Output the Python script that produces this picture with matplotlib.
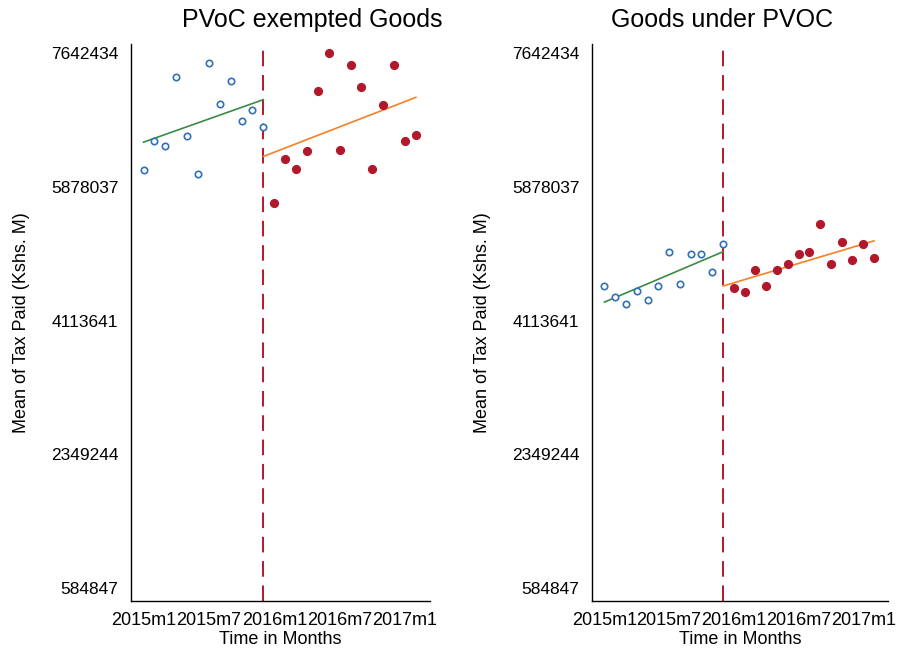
import numpy as np
import matplotlib
matplotlib.use("Agg")
import matplotlib.pyplot as plt

plt.rcParams['font.family'] = ['Liberation Sans', 'DejaVu Sans']

# ---------- DATA ----------
# months counted from 2015m1 (=0)
months_pre = np.arange(0, 12)
months_post = np.arange(12, 26)
cutoff = 11

tick_pos = [0, 6, 12, 18, 24]
tick_labels = ["2015m1", "2015m7", "2016m1", "2016m7", "2017m1"]
ytick_vals = [584847, 2349244, 4113641, 5878037, 7642434]

# PVoC exempted goods
exempt_pre = [6102900, 6476200, 6419500, 7325800, 6551400, 6050100,
              7510500, 6973600, 7267800, 6740100, 6894400, 6660900]
exempt_post = [5663600, 6244100, 6112100, 6344300, 7135800, 7642434, 6366800,
               7478800, 7188600, 6112100, 6951100, 7478800, 6476200, 6555400]

# Goods under PVOC
pvoc_pre = [4572600, 4418300, 4335200, 4497500, 4387900, 4572600,
            5017200, 4599000, 4994800, 4994800, 4753400, 5126700]
pvoc_post = [4542300, 4493500, 4783700, 4572600, 4783700, 4862900, 4994800,
             5017200, 5390500, 4862900, 5149100, 4915600, 5126700, 4942000]

panels = [
    ("PVoC exempted Goods", exempt_pre, exempt_post),
    ("Goods under PVOC", pvoc_pre, pvoc_post),
]

# ---------- STYLE ----------
c_pre = "#3070b8"
c_post = "#b2182b"
c_fit_pre = "#3a8a45"
c_fit_post = "#f58025"

fig = plt.figure(figsize=(9, 6.56), dpi=100)
ax_rects = [[0.1456, 0.0838, 0.3322, 0.8491],
            [0.6578, 0.0838, 0.3289, 0.8491]]
title_x = [312 / 900, 722 / 900]

for rect, tx, (title, pre, post) in zip(ax_rects, title_x, panels):
    ax = fig.add_axes(rect)
    pre = np.array(pre)
    post = np.array(post)

    ax.plot(months_pre, pre, "o", ms=4.6, mfc="white", mec=c_pre, mew=1.2, zorder=3)
    ax.plot(months_post, post, "o", ms=5.6, color=c_post, zorder=3)

    # linear fits on each side of the cutoff
    b_pre = np.polyfit(months_pre, pre, 1)
    b_post = np.polyfit(months_post, post, 1)
    xr_pre = np.array([months_pre[0], cutoff])
    xr_post = np.array([cutoff, months_post[-1]])
    ax.plot(xr_pre, np.polyval(b_pre, xr_pre), color=c_fit_pre, lw=1.2, zorder=2)
    ax.plot(xr_post, np.polyval(b_post, xr_post), color=c_fit_post, lw=1.2, zorder=2)

    ax.axvline(cutoff, color=c_post, lw=1.4, dashes=(8, 4.5), zorder=1)

    ax.set_xlim(-1.15, 26.3)
    ax.set_ylim(413000, 7762000)
    ax.set_xticks(tick_pos)
    ax.set_xticklabels(tick_labels, fontsize=13)
    ax.set_yticks(ytick_vals)
    ax.set_yticklabels([str(v) for v in ytick_vals], fontsize=12.5)
    ax.tick_params(length=0)
    ax.tick_params(axis="y", pad=9)
    ax.tick_params(axis="x", pad=8)
    for s in ["top", "right"]:
        ax.spines[s].set_visible(False)
    for s in ["left", "bottom"]:
        ax.spines[s].set_linewidth(1.0)

    ax.set_xlabel("Time in Months", fontsize=13, labelpad=1)
    ax.set_ylabel("Mean of Tax Paid (Kshs. M)", fontsize=13, labelpad=15)
    fig.text(tx, 1 - 20 / 656, title, fontsize=18, ha="center", va="center")

fig.savefig("out.png", dpi=100)
